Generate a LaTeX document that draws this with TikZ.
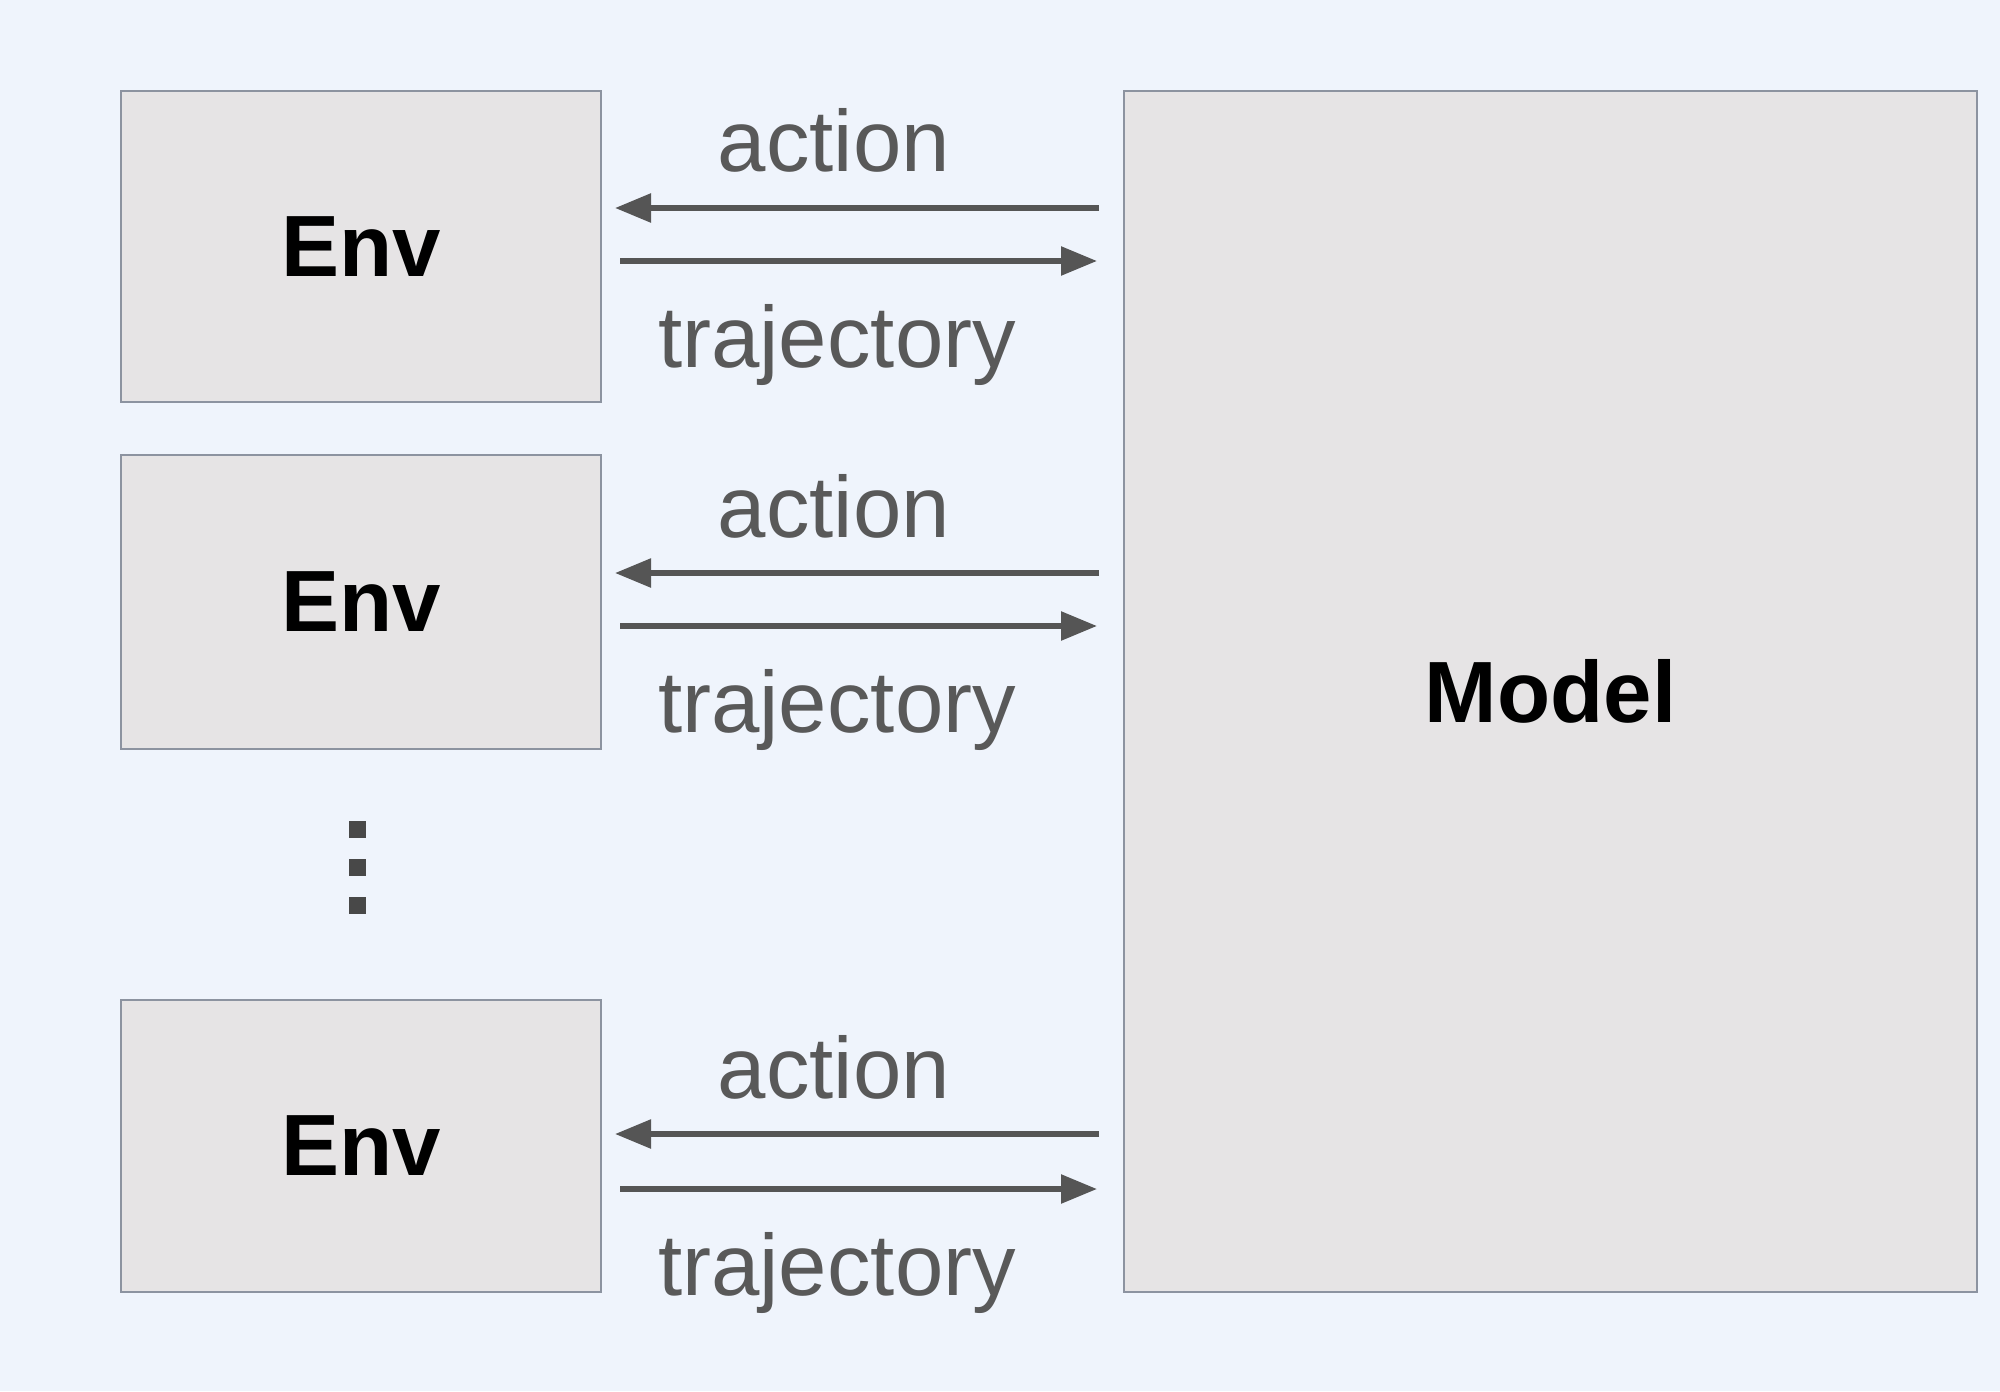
\documentclass[tikz,border=0pt]{standalone}
\usepackage{fontspec}
\setmainfont{Liberation Sans}
\usetikzlibrary{arrows.meta}
\definecolor{bgc}{HTML}{EFF4FC}
\definecolor{boxfill}{HTML}{E6E4E5}
\definecolor{boxline}{HTML}{8C93A0}
\definecolor{arrc}{HTML}{555555}
\definecolor{labc}{HTML}{595959}
\tikzset{
  box/.style={draw=boxline, line width=1pt, fill=boxfill, inner sep=0pt,
    font=\fontsize{43.5}{50}\selectfont\bfseries, text=black},
  arr/.style={draw=arrc, line width=2.8pt, -{Triangle[length=18pt,width=14pt]}},
  lab/.style={anchor=base, inner sep=0pt, text=labc, font=\fontsize{43.5}{50}\selectfont},
  dotsq/.style={fill=arrc!85!black, minimum size=8.5pt, inner sep=0pt}
}
\begin{document}
\begin{tikzpicture}[x=0.5pt,y=-0.5pt]
\fill[bgc] (0,0) rectangle (2000,1391);
\useasboundingbox (0,0) rectangle (2000,1391);
% boxes
\node[box, minimum width=240pt, minimum height=155.5pt] (e1) at (361,246.5) {Env};
\node[box, minimum width=240pt, minimum height=147pt] (e2) at (361,602) {Env};
\node[box, minimum width=240pt, minimum height=146pt] (e3) at (361,1146) {Env};
\node[box, minimum width=426.5pt, minimum height=600.5pt] (m) at (1550.5,691.5) {Model};
% arrows
\draw[arr, shorten >=6.5pt, shorten <=12pt] (m.west |- 0,208) -- (e1.east |- 0,208);
\draw[arr, shorten <=9pt, shorten >=13pt] (e1.east |- 0,261) -- (m.west |- 0,261);
\draw[arr, shorten >=6.5pt, shorten <=12pt] (m.west |- 0,573) -- (e2.east |- 0,573);
\draw[arr, shorten <=9pt, shorten >=13pt] (e2.east |- 0,626) -- (m.west |- 0,626);
\draw[arr, shorten >=6.5pt, shorten <=12pt] (m.west |- 0,1134) -- (e3.east |- 0,1134);
\draw[arr, shorten <=9pt, shorten >=13pt] (e3.east |- 0,1189) -- (m.west |- 0,1189);
% labels
\node[lab] (a1) at (834,172) {action};
\node[lab] (t1) at (837,367) {trajectory};
\node[lab] (a2) at (834,537) {action};
\node[lab] (t2) at (837,732) {trajectory};
\node[lab] (a3) at (834,1098) {action};
\node[lab] (t3) at (837,1295) {trajectory};
% vertical dots
\node[dotsq] (d1) at (357,829) {};
\node[dotsq] (d2) at (357,867) {};
\node[dotsq] (d3) at (357,905) {};
\end{tikzpicture}
\end{document}
